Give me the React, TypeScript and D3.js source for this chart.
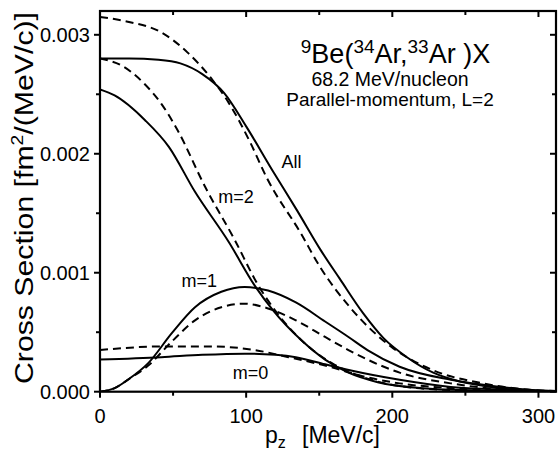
import React from "react";
import * as d3 from "d3";

// ---- data (pz in MeV/c, cross section in fm^2/(MeV/c)) ----
const allSolid: [number, number][] = [
  [0, 0.0028], [20, 0.0028], [40, 0.00279], [55, 0.00276], [70, 0.00267], [85, 0.00251],
  [100, 0.00223], [118, 0.00186], [135, 0.00152], [151, 0.00119], [164, 0.00095], [180, 0.00066],
  [194, 0.00045], [210, 0.00029], [228, 0.00016], [245, 0.00009], [262, 0.00005], [280, 0.00002],
  [300, 0.00001], [312, 0.000005],
];
const allDashed: [number, number][] = [
  [0, 0.00315], [19, 0.00311], [42, 0.00302], [60, 0.00285], [77, 0.00262], [88, 0.00243],
  [103, 0.00209], [114, 0.0018], [137, 0.00134], [151, 0.00104], [171, 0.00071], [199, 0.00038],
  [228, 0.00018], [262, 0.00007], [290, 0.00002], [312, 0.000005],
];
const m2Solid: [number, number][] = [
  [0, 0.00254], [10, 0.00249], [31, 0.00228], [47, 0.00206], [65, 0.00168], [88, 0.00126],
  [106, 0.00089], [118, 0.00069], [138, 0.00043], [154, 0.00027], [170, 0.00016], [190, 0.00008],
  [220, 0.00003], [260, 0.00001], [312, 0],
];
const m2Dashed: [number, number][] = [
  [0, 0.0028], [15, 0.00274], [31, 0.00258], [42, 0.00242], [53, 0.0022], [72, 0.00172],
  [92, 0.00128], [108, 0.0009], [120, 0.00068], [138, 0.00043], [160, 0.00023], [183, 0.00011],
  [210, 0.00004], [250, 0.00001], [312, 0],
];
const m1Solid: [number, number][] = [
  [0, 0], [10, 0.00003], [19, 0.0001], [33, 0.00024], [49, 0.00049], [65, 0.00071], [83, 0.00084],
  [99, 0.00088], [115, 0.00085], [134, 0.00075], [154, 0.00059], [170, 0.00046], [183, 0.00035],
  [205, 0.00021], [240, 0.0001], [274, 0.00004], [300, 0.00001], [312, 0.000005],
];
const m1Dashed: [number, number][] = [
  [0, 0], [10, 0.00003], [19, 0.0001], [33, 0.00022], [49, 0.00042], [65, 0.0006], [83, 0.00071],
  [99, 0.00074], [115, 0.0007], [134, 0.0006], [154, 0.00046], [170, 0.00035], [183, 0.00027],
  [205, 0.00016], [240, 0.00007], [274, 0.00002], [312, 0],
];
const m0Solid: [number, number][] = [
  [0, 0.00027], [42, 0.00029], [70, 0.00031], [99, 0.00032], [120, 0.00031], [134, 0.00029],
  [154, 0.00023], [171, 0.00018], [205, 0.0001], [240, 0.00004], [270, 0.00002], [312, 0],
];
const m0Dashed: [number, number][] = [
  [0, 0.00035], [42, 0.00038], [77, 0.00038], [106, 0.00035], [129, 0.00029], [154, 0.00022],
  [183, 0.00012], [205, 0.00007], [240, 0.00003], [270, 0.00001], [312, 0],
];

const xMajorTicks = [0, 100, 200, 300];
const xMinorTicks = [50, 150, 250];
const yMajorTicks = [0, 0.001, 0.002, 0.003];
const yMinorTicks = [0.0005, 0.0015, 0.0025];

const curveLabels = [
  { text: "All", p: 131, v: 0.00188 },
  { text: "m=2", p: 93, v: 0.00159 },
  { text: "m=1", p: 68, v: 0.00088 },
  { text: "m=0", p: 103, v: 0.00011 },
];

const W = 560;
const H = 452;
const L = 100, R = 556, T = 11, B = 391.7;
const FONT = "'Liberation Sans', Arial, Helvetica, sans-serif";

export default function App() {
  const x = d3.scaleLinear().domain([0, 312]).range([L, R]);
  const y = d3.scaleLinear().domain([0, 0.0032]).range([B, T]);
  const line = d3
    .line<[number, number]>()
    .x((d) => x(d[0]))
    .y((d) => y(d[1]))
    .curve(d3.curveMonotoneX);

  const series = [
    { d: allSolid, dash: false },
    { d: allDashed, dash: true },
    { d: m2Solid, dash: false },
    { d: m2Dashed, dash: true },
    { d: m1Solid, dash: false },
    { d: m1Dashed, dash: true },
    { d: m0Solid, dash: false },
    { d: m0Dashed, dash: true },
  ];

  return (
    <svg
      width={W}
      height={H}
      style={{ position: "absolute", left: 0, top: 0, background: "#fff" }}
      fontFamily={FONT}
    >
      <defs>
        <clipPath id="plot">
          <rect x={L} y={T} width={R - L} height={B - T} />
        </clipPath>
      </defs>
      <g clipPath="url(#plot)">
        {series.map((s, i) => (
          <path
            key={i}
            d={line(s.d) || ""}
            fill="none"
            stroke="#000"
            strokeWidth={2}
            strokeDasharray={s.dash ? "8,5" : undefined}
          />
        ))}
      </g>
      {/* frame */}
      <rect x={L} y={T} width={R - L} height={B - T} fill="none" stroke="#000" strokeWidth={2.2} />
      {/* x ticks bottom (outward) and top (inward) */}
      {xMajorTicks.map((t) => (
        <g key={"xM" + t}>
          <line x1={x(t)} x2={x(t)} y1={B} y2={B + 6} stroke="#000" strokeWidth={2} />
          <line x1={x(t)} x2={x(t)} y1={T} y2={T + 6} stroke="#000" strokeWidth={2} />
          <text x={x(t)} y={B + 31} textAnchor="middle" fontSize={20}>
            {t}
          </text>
        </g>
      ))}
      {xMinorTicks.map((t) => (
        <g key={"xm" + t}>
          <line x1={x(t)} x2={x(t)} y1={B} y2={B + 4} stroke="#000" strokeWidth={2} />
          <line x1={x(t)} x2={x(t)} y1={T} y2={T + 4} stroke="#000" strokeWidth={2} />
        </g>
      ))}
      {yMajorTicks.map((t) => (
        <g key={"yM" + t}>
          <line x1={L - 6} x2={L} y1={y(t)} y2={y(t)} stroke="#000" strokeWidth={2} />
          <line x1={R - 6} x2={R} y1={y(t)} y2={y(t)} stroke="#000" strokeWidth={2} />
          <text x={L - 10} y={y(t) + 7} textAnchor="end" fontSize={20}>
            {d3.format(".3f")(t)}
          </text>
        </g>
      ))}
      {yMinorTicks.map((t) => (
        <g key={"ym" + t}>
          <line x1={L - 4} x2={L} y1={y(t)} y2={y(t)} stroke="#000" strokeWidth={2} />
          <line x1={R - 4} x2={R} y1={y(t)} y2={y(t)} stroke="#000" strokeWidth={2} />
        </g>
      ))}
      {/* axis titles */}
      <text x={265} y={443} fontSize={23}>
        p<tspan fontSize={16} dy={5}>z</tspan>
        <tspan dy={-5} x={302}>[MeV/c]</tspan>
      </text>
      <text
        transform="translate(33,198) rotate(-90)"
        textAnchor="middle"
        fontSize={25}
        textLength={372}
        lengthAdjust="spacingAndGlyphs"
      >
        Cross Section [fm<tspan fontSize={16} dy={-10}>2</tspan>
        <tspan dy={10}>/(MeV/c)]</tspan>
      </text>
      {/* annotation */}
      <text x={395.5} y={63} textAnchor="middle" fontSize={27}>
        <tspan fontSize={19} dy={-10}>9</tspan>
        <tspan dy={10}>Be(</tspan>
        <tspan fontSize={19} dy={-10}>34</tspan>
        <tspan dy={10}>Ar,</tspan>
        <tspan fontSize={19} dy={-10}>33</tspan>
        <tspan dy={10}>Ar )X</tspan>
      </text>
      <text x={390} y={86} textAnchor="middle" fontSize={19.5}>
        68.2 MeV/nucleon
      </text>
      <text x={390} y={106} textAnchor="middle" fontSize={19}>
        Parallel-momentum, L=2
      </text>
      {curveLabels.map((c) => (
        <text key={c.text} x={x(c.p)} y={y(c.v)} textAnchor="middle" fontSize={18}>
          {c.text}
        </text>
      ))}
    </svg>
  );
}
